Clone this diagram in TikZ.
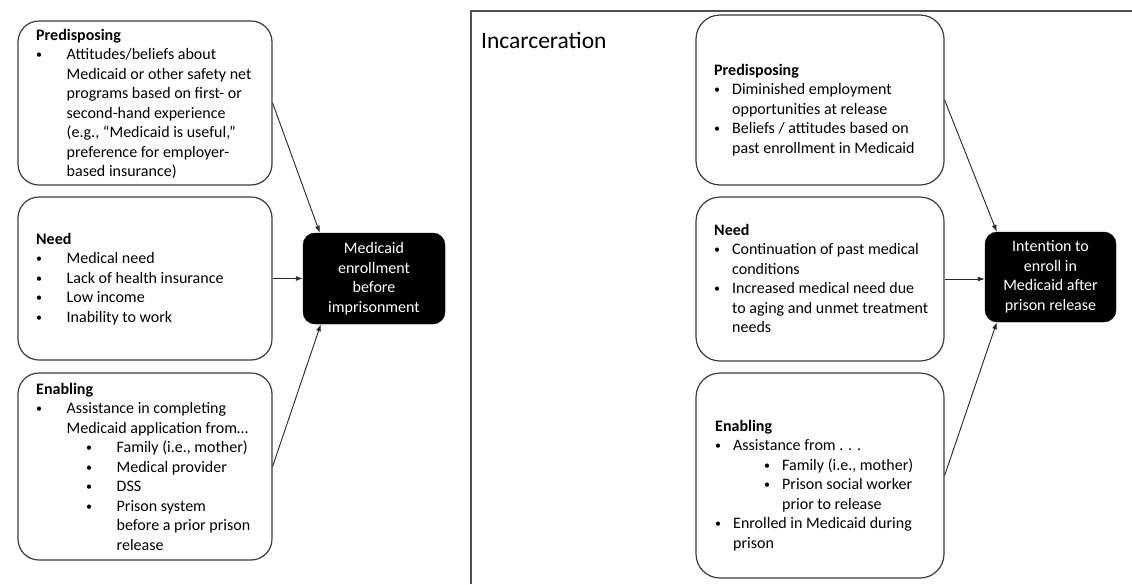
\documentclass[tikz,border=0pt]{standalone}
\usepackage{fontspec}
\setmainfont{Carlito}
\usetikzlibrary{arrows.meta,calc}
\definecolor{boxgray}{RGB}{60,60,60}
\definecolor{panelgray}{RGB}{80,80,80}
\newcommand{\fsz}{\fontsize{16pt}{19.5pt}\selectfont}
\newcommand{\dotglyph}{\raisebox{1.2pt}{\fontsize{12pt}{12pt}\selectfont •}}
\newcommand{\bul}{\makebox[30.5pt][l]{\dotglyph}}
\newcommand{\ind}{\hspace*{30.5pt}}
\newcommand{\bulr}{\makebox[18pt][l]{\dotglyph}}
\newcommand{\indr}{\hspace*{18pt}}
\newcommand{\fstrut}{\rule{0pt}{13pt}}
\begin{document}
\begin{tikzpicture}[x=1pt,y=-1pt,
  box/.style={draw=boxgray,line width=1.2pt,rounded corners=21pt,inner sep=0pt},
  rbox/.style={box,rounded corners=24pt},
  outbox/.style={fill=black,draw=black,rounded corners=12pt,text=white,align=center,inner sep=0pt,font=\fsz},
  txt/.style={anchor=north west,inner sep=0pt,align=left,font=\fsz},
  arr/.style={-{Latex[length=7pt,width=5pt]},line width=0.9pt,draw=black!85}]
\useasboundingbox (0,0) rectangle (1132,584);
% panel
\draw[panelgray,line width=1.5pt] (471,584) -- (471,11) -- (1132,11);
\node[anchor=base west,inner sep=0pt,font=\fontsize{23.5pt}{28pt}\selectfont] (inc) at (481,48.5) {Incarceration};
% left boxes
\node[box,minimum width=254pt,minimum height=164pt] (lp) at (145,103) {};
\node[box,minimum width=254pt,minimum height=163pt] (ln) at (145,278.5) {};
\node[box,minimum width=254pt,minimum height=187pt] (le) at (145,466.5) {};
\node[outbox,minimum width=142pt,minimum height=91pt] (lb) at (374,278.5) {Medicaid\\enrollment\\before\\imprisonment};
\node[txt] (lpt) at (36,27) {\fstrut\textbf{Predisposing}\\
\bul Attitudes/beliefs about\\
\ind Medicaid or other safety net\\
\ind programs based on first- or\\
\ind second-hand experience\\
\ind (e.g., “Medicaid is useful,”\\
\ind preference for employer-\\
\ind based insurance)};
\node[txt] (lnt) at (36,231) {\fstrut\textbf{Need}\\
\bul Medical need\\
\bul Lack of health insurance\\
\bul Low income\\
\bul Inability to work};
\node[txt] (let) at (36,381) {\fstrut\textbf{Enabling}\\
\bul Assistance in completing\\
\ind Medicaid application from…\\
\hspace*{50pt}\bul Family (i.e., mother)\\
\hspace*{50pt}\bul Medical provider\\
\hspace*{50pt}\bul DSS\\
\hspace*{50pt}\bul Prison system\\
\hspace*{50pt}\ind before a prior prison\\
\hspace*{50pt}\ind release};
% right boxes
\node[rbox,minimum width=248pt,minimum height=170pt] (rp) at (820,100) {};
\node[rbox,minimum width=248pt,minimum height=164pt] (rn) at (820,279) {};
\node[rbox,minimum width=248pt,minimum height=205pt] (re) at (820,475.5) {};
\node[outbox,minimum width=131pt,minimum height=90pt] (rb) at (1050.5,277) {Intention to\\enroll in\\Medicaid after\\prison release};
\node[txt] (rpt) at (714,62) {\fstrut\textbf{Predisposing}\\
\bulr Diminished employment\\
\indr opportunities at release\\
\bulr Beliefs / attitudes based on\\
\indr past enrollment in Medicaid};
\node[txt] (rnt) at (714,222) {\fstrut\textbf{Need}\\
\bulr Continuation of past medical\\
\indr conditions\\
\bulr Increased medical need due\\
\indr to aging and unmet treatment\\
\indr needs};
\node[txt] (ret) at (715,418) {\fstrut\textbf{Enabling}\\
\bulr Assistance from . . .\\
\hspace*{49pt}\bulr Family (i.e., mother)\\
\hspace*{49pt}\bulr Prison social worker\\
\hspace*{49pt}\indr prior to release\\
\bulr Enrolled in Medicaid during\\
\indr prison};
% connectors
\draw[arr] (lp.east) -- ($(lb.north west)+(17,0)$);
\draw[arr] (ln.east) -- (ln.east -| lb.west);
\draw[arr] (le.east) -- ($(lb.south west)+(18,0)$);
\draw[arr] (rp.east) -- ($(rb.north west)+(12,0)$);
\draw[arr] (rn.east) -- (rn.east -| rb.west);
\draw[arr] (re.east) -- ($(rb.south west)+(12,0)$);
\end{tikzpicture}
\end{document}
